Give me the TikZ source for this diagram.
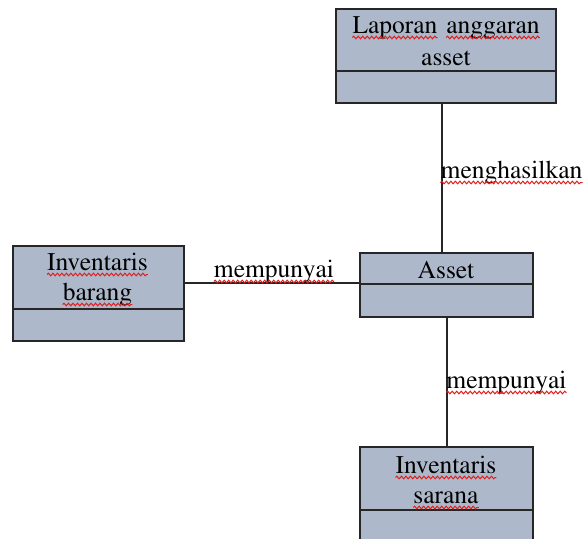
\documentclass[tikz,border=0pt]{standalone}
\usepackage[T1]{fontenc}
\usepackage{mathptmx}
\usetikzlibrary{decorations.pathmorphing}
\definecolor{classfill}{RGB}{173,185,202}
\definecolor{spellred}{RGB}{225,30,30}
\begin{document}
\begin{tikzpicture}[x=1pt,y=-1pt,
  classbox/.style={draw=black!85,line width=1.6pt,fill=classfill,inner sep=0pt,
    minimum width=#1,anchor=north west},
  divider/.style={draw=black!85,line width=1.4pt},
  link/.style={draw=black!85,line width=1.1pt},
  word/.style={font=\rmfamily\fontsize{25.5}{30}\selectfont,text=black,inner sep=0pt,anchor=base},
  wavy/.style={draw=spellred,line width=1pt,decorate,
    decoration={snake,amplitude=1.3pt,segment length=4.5pt}}
]
\useasboundingbox (0,0) rectangle (583,538);
\fill[white] (0,0) rectangle (583,538);

% class boxes (outline rectangles, each with one compartment line)
\node[classbox=220pt,minimum height=94pt] (lap) at (335,8) {};
\node[classbox=171pt,minimum height=95pt] (bar) at (12,245) {};
\node[classbox=173pt,minimum height=64pt] (ast) at (359,252) {};
\node[classbox=173pt,minimum height=96pt] (sar) at (359,446) {};

\draw[divider] (lap.west |- 0,71) coordinate (lapdl) -- (lapdl -| lap.east);
\draw[divider] (bar.west |- 0,309) coordinate (bardl) -- (bardl -| bar.east);
\draw[divider] (ast.west |- 0,284) coordinate (astdl) -- (astdl -| ast.east);
\draw[divider] (sar.west |- 0,510) coordinate (sardl) -- (sardl -| sar.east);

% connectors
\draw[link] (lap.south -| 442,0) -- (ast.north -| 442,0);
\draw[link] (bar.east |- 0,283) -- (ast.west |- 0,283);
\draw[link] (ast.south -| 447,0) -- (sar.north -| 447,0);

% class names
\node[word] (lapA) at (395,33) {Laporan};
\node[word] (lapB) at (493,33) {anggaran};
\node[word] (lapC) at (446,65) {asset};
\node[word] (barA) at (97.5,270) {Inventaris};
\node[word] (barB) at (97.5,300) {barang};
\node[word] (astA) at (446,278) {Asset};
\node[word] (sarA) at (446,473) {Inventaris};
\node[word] (sarB) at (446,503) {sarana};

% relation labels
\node[word] (relA) at (511.5,178) {menghasilkan};
\node[word] (relB) at (274,277) {mempunyai};
\node[word] (relC) at (506.5,388) {mempunyai};

% spell-check underlines
\foreach \w in {lapA,lapB,barA,barB,sarA,sarB,relA,relB,relC}
  \draw[wavy] ([yshift=-4.5pt]\w.base west) -- ([yshift=-4.5pt]\w.base east);
\end{tikzpicture}
\end{document}
